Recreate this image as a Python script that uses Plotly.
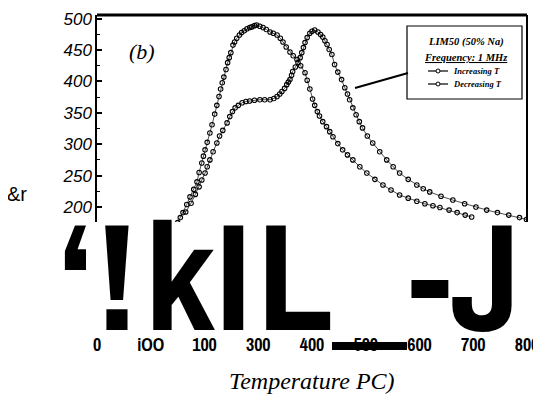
import plotly.graph_objects as go

# ---------------- data ----------------
inc_T = [150, 155, 160, 167, 173, 180, 186, 190, 195, 198, 201, 205, 210, 214, 219, 223, 227, 230,
         233, 236, 240, 243, 246, 249, 253, 256, 260, 265, 269, 274, 279, 284, 288, 293, 297, 303,
         309, 315, 322, 328, 335, 341, 346, 352, 359, 365, 372, 379, 387, 391, 396, 401, 405, 410,
         414, 420, 427, 433, 439, 448, 457, 466, 476, 489, 502, 517, 532, 547, 563, 579, 595, 610,
         625, 638, 655, 670, 685, 697]
inc_V = [175, 183, 191, 204, 216, 228, 240, 255, 270, 281, 291, 303, 318, 331, 348, 362, 376, 388,
         398, 407, 419, 430, 438, 446, 458, 463, 469, 474, 478, 481, 484, 486, 487, 489, 490, 488,
         486, 483, 479, 477, 474, 469, 463, 455, 447, 441, 435, 425, 414, 402, 388, 372, 362, 352,
         345, 336, 328, 320, 312, 301, 291, 283, 275, 264, 254, 244, 235, 227, 219, 214, 209, 205,
         202, 199, 195, 191, 187, 184]

dec_T = [165, 175, 183, 190, 195, 201, 205, 210, 216, 223, 228, 234, 242, 247, 252, 257, 263, 270,
         277, 284, 293, 303, 312, 322, 329, 335, 340, 344, 349, 353, 356, 359, 362, 364, 369, 374,
         378, 381, 384, 387, 391, 396, 400, 405, 411, 416, 420, 424, 428, 432, 437, 442, 448, 455,
         461, 466, 470, 476, 482, 488, 494, 503, 513, 526, 539, 551, 563, 579, 595, 607, 619, 640,
         662, 684, 705, 725, 745, 766, 786, 799]
dec_V = [192, 206, 220, 232, 243, 254, 264, 275, 288, 302, 313, 322, 334, 344, 352, 358, 362, 366,
         368, 369, 370, 371, 371, 371, 373, 376, 380, 384, 389, 395, 399, 403, 410, 416, 423, 430,
         438, 446, 454, 462, 470, 477, 480, 482, 479, 475, 471, 465, 459, 451, 443, 427, 415, 403,
         390, 380, 371, 358, 347, 336, 326, 313, 302, 288, 275, 264, 254, 244, 235, 229, 224, 217,
         211, 205, 200, 195, 191, 187, 183, 180]

x_tickvals = [0, 100, 200, 300, 400, 500, 600, 700, 800]
x_ticktext = ["0", "iOO", "100", "300", "400", "500", "600", "700", "800"]
y_tickvals = [200, 250, 300, 350, 400, 450, 500]

series_names = ["Increasing T", "Decreasing T"]

# ---------------- layout helpers (screen pixel -> paper) ----------------
# the page body has an 8px default margin, so the figure is drawn 8px in
OFF = 8
W, H = 541 - OFF, 394 - OFF
PL, PR, PT, PB = 97, 527, 15, 222  # plot area in screen pixels


def px(x):
    return (x - PL) / (PR - PL)


def py(y):
    return (PB - y) / (PB - PT)


fig = go.Figure()
for xs, ys, nm in [(inc_T, inc_V, series_names[0]), (dec_T, dec_V, series_names[1])]:
    fig.add_trace(go.Scatter(
        x=xs, y=ys, name=nm, mode="lines+markers", showlegend=False,
        line=dict(color="black", width=0.7),
        marker=dict(symbol="circle-open", size=4.5, color="black", line=dict(width=1.1)),
    ))

NARROW = "Archivo Narrow, Liberation Sans Narrow, Arial Narrow, Liberation Sans"
SERIF = "Liberation Serif, Times New Roman, serif"

anns = []
# big OCR glyphs
glyphs = [("\u2018", 75), ("!", 116.5), ("k", 180), ("I", 233), ("L", 295), ("-", 430), ("J", 486)]
for g, gx in glyphs:
    anns.append(dict(text=g, x=px(gx), y=py(275), xref="paper", yref="paper",
                     xanchor="center", yanchor="middle", showarrow=False,
                     font=dict(family=NARROW, size=153, color="black", weight="bold")))

anns.append(dict(text="(b)", x=px(142), y=py(51), xref="paper", yref="paper",
                 xanchor="center", yanchor="middle", showarrow=False,
                 font=dict(family=SERIF, size=22, color="black", style="italic")))
anns.append(dict(text="&r", x=px(17), y=py(194), xref="paper", yref="paper",
                 xanchor="center", yanchor="middle", showarrow=False,
                 font=dict(family="Liberation Sans, Arial", size=20, color="black")))
anns.append(dict(text="Temperature PC)", x=px(312), y=py(381), xref="paper", yref="paper",
                 xanchor="center", yanchor="middle", showarrow=False,
                 font=dict(family=SERIF, size=24, color="black", style="italic")))

# legend texts
tf = dict(family=SERIF, size=10.5, color="black", style="italic", weight="bold")
lf = dict(family=SERIF, size=8.5, color="black", style="italic", weight="bold")
anns.append(dict(text="LIM50 (50% Na)", x=px(466), y=py(42), xref="paper", yref="paper",
                 xanchor="center", yanchor="middle", showarrow=False, font=tf))
anns.append(dict(text="<u>Frequency: 1 MHz</u>", x=px(466), y=py(57), xref="paper", yref="paper",
                 xanchor="center", yanchor="middle", showarrow=False, font=tf))
for nm, yy in [(series_names[0], 71), (series_names[1], 84)]:
    anns.append(dict(text=nm, x=px(451), y=py(yy), xref="paper", yref="paper",
                     xanchor="left", yanchor="middle", showarrow=False, font=lf))

shapes = []
shapes.append(dict(type="line", xref="paper", yref="paper", x0=0, x1=1, y0=1, y1=1,
                   line=dict(color="black", width=3)))
shapes.append(dict(type="line", xref="paper", yref="paper", x0=1, x1=1, y0=0, y1=1,
                   line=dict(color="black", width=2)))
shapes.append(dict(type="rect", xref="paper", yref="paper", x0=px(407), x1=px(522), y0=py(99), y1=py(26),
                   line=dict(color="black", width=1.2), fillcolor="white"))
for yy in [71, 84]:
    shapes.append(dict(type="line", xref="paper", yref="paper", x0=px(428), x1=px(448), y0=py(yy), y1=py(yy),
                       line=dict(color="black", width=1.2)))
    shapes.append(dict(type="circle", xref="paper", yref="paper", x0=px(436), x1=px(440),
                       y0=py(yy + 2), y1=py(yy - 2), line=dict(color="black", width=1), fillcolor="white"))
shapes.append(dict(type="line", xref="paper", yref="paper", x0=px(355), x1=px(408), y0=py(88), y1=py(73),
                   line=dict(color="black", width=2)))
shapes.append(dict(type="rect", xref="paper", yref="paper", x0=px(332), x1=px(407), y0=py(350), y1=py(342),
                   line=dict(width=0), fillcolor="black", layer="above"))

fig.update_layout(
    width=W, height=H, autosize=False,
    margin=dict(l=PL - OFF, r=W - (PR - OFF), t=PT - OFF, b=H - (PB - OFF), pad=0, autoexpand=False),
    paper_bgcolor="white", plot_bgcolor="white",
    annotations=anns, shapes=shapes,
    xaxis=dict(range=[0, 800], tickmode="array", tickvals=x_tickvals, ticktext=x_ticktext,
               automargin=False, ticklabeloverflow="allow",
               showgrid=False, zeroline=False, showline=False, ticks="",
               ticklabelstandoff=110,
               tickfont=dict(family=NARROW, size=18, color="black", weight="bold")),
    yaxis=dict(range=[176, 506], tickmode="array", tickvals=y_tickvals, automargin=False,
               showgrid=False, zeroline=False, showline=True, linecolor="black", linewidth=1.5,
               ticks="inside", ticklen=5, tickwidth=1.5, tickcolor="black",
               minor=dict(ticks="inside", ticklen=3, tickwidth=1, tickcolor="black", dtick=25),
               tickfont=dict(family="Liberation Sans, Arial", size=17, color="black", style="italic")),
)

fig.write_html("out.html")
